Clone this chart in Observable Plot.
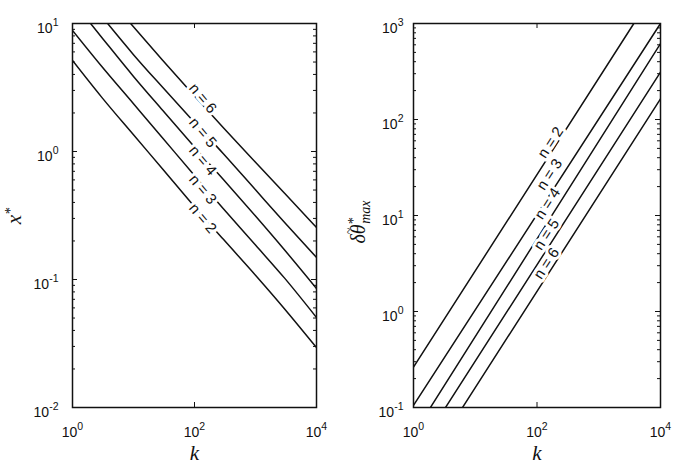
<!DOCTYPE html>
<html><head><meta charset="utf-8">
<script src="https://cdn.jsdelivr.net/npm/d3@7"></script>
<script src="https://cdn.jsdelivr.net/npm/@observablehq/plot@0.6"></script>
<style>
body{margin:0;background:#fff;}
#wrap{position:relative;width:679px;height:471px;overflow:hidden;}
#wrap svg{position:absolute;top:0;}
</style></head><body><div id="wrap"></div>
<script>
// ---------- data ----------
const kGrid = [1, 3, 10, 30, 100, 300, 1000, 3000, 10000];
const xStarN2 = [5.14, 2.66, 1.35, 0.731, 0.371, 0.205, 0.108, 0.0589, 0.0294];
const xStarN3 = [8.82, 4.63, 2.36, 1.276, 0.649, 0.356, 0.186, 0.1025, 0.0505];
const xStarN4 = [null, 7.82, 3.86, 2.10, 1.086, 0.601, 0.313, 0.170, 0.0851];
const xStarN5 = [null, null, 5.71, 3.17, 1.687, 0.956, 0.502, 0.279, 0.1486];
const xStarN6 = [null, null, null, 5.17, 2.71, 1.527, 0.825, 0.471, 0.255];
// k where curves n = 4, 5, 6 leave the top of the frame (x* = 10)
const xStarTopK = [null, null, 1.98, 3.76, 8.97];
const xStarTopV = 10;

const nValues = [2, 3, 4, 5, 6];
const dthStartK = [1, 1, 1.88, 3.30, 6.22];
const dthStartV = [0.263, 0.105, 0.1, 0.1, 0.1];
const dthEndK = [3700, 10000, 10000, 10000, 10000];
const dthEndV = [1000, 1000, 617, 311, 164];

const leftLabelK = [136.6, 136.6, 136.6, 136.6, 136.6];
const leftLabelV = [0.300, 0.505, 0.850, 1.407, 2.60];
const rightLabelK = [165.5, 159, 148, 142.5, 142.5];
const rightLabelV = [57.5, 26.7, 13.3, 6.34, 3.16];

const xTicks = [1, 100, 10000];
const leftYTicks = [0.01, 0.1, 1, 10];
const rightYTicks = [0.1, 1, 10, 100, 1000];

// ---------- build tables ----------
const xStarSeries = [xStarN2, xStarN3, xStarN4, xStarN5, xStarN6];
const leftRows = [];
nValues.forEach((n, i) => {
  if (xStarTopK[i] != null) leftRows.push({n, k: xStarTopK[i], v: xStarTopV});
  kGrid.forEach((k, j) => { const v = xStarSeries[i][j]; if (v != null) leftRows.push({n, k, v}); });
});
const rightRows = [];
nValues.forEach((n, i) => {
  rightRows.push({n, k: dthStartK[i], v: dthStartV[i]});
  rightRows.push({n, k: dthEndK[i], v: dthEndV[i]});
});
const leftLabels = nValues.map((n, i) => ({n, k: leftLabelK[i], v: leftLabelV[i]}));
const rightLabels = nValues.map((n, i) => ({n, k: rightLabelK[i], v: rightLabelV[i]}));

function minorTicks(lo, hi) {
  const out = [];
  for (let e = Math.round(Math.log10(lo)); e < Math.round(Math.log10(hi)); e++)
    for (let m = 2; m <= 9; m++) out.push(m * Math.pow(10, e));
  return out;
}
const expFmt = d => "10^" + Math.round(Math.log10(d));

const H = 471, mTop = 23, mBottom = 64;
const frameH = H - mTop - mBottom;

function panel({width, mLeft, mRight, yDomain, yTicks, rows, labels, rot, yPad}) {
  const W = width - mLeft - mRight;
  const minor = minorTicks(yDomain[0], yDomain[1]);
  const ink = "#111";
  return Plot.plot({
    width, height: H, marginLeft: mLeft, marginRight: mRight, marginTop: mTop, marginBottom: mBottom,
    style: {fontFamily: "'Liberation Sans', Arial, sans-serif", background: "white", color: ink},
    x: {type: "log", domain: [1, 10000]},
    y: {type: "log", domain: yDomain},
    marks: [
      Plot.axisX({ticks: xTicks, tickSize: 0, tickPadding: 20, tickFormat: expFmt, fontSize: 14, label: null}),
      Plot.axisY({ticks: yTicks, tickSize: 0, tickPadding: yPad, tickFormat: expFmt, fontSize: 14, label: null, dy: 5}),
      // inward ticks (left / right)
      Plot.tickY(yTicks, {y: d => d, insetRight: W - 5, stroke: ink}),
      Plot.tickY(yTicks, {y: d => d, insetLeft: W - 5, stroke: ink}),
      Plot.tickY(minor, {y: d => d, insetRight: W - 3, stroke: ink}),
      Plot.tickY(minor, {y: d => d, insetLeft: W - 3, stroke: ink}),
      // inward ticks (top / bottom)
      Plot.tickX(xTicks, {x: d => d, insetTop: frameH - 5, stroke: ink}),
      Plot.tickX(xTicks, {x: d => d, insetBottom: frameH - 5, stroke: ink}),
      Plot.line(rows, {x: "k", y: "v", z: "n", curve: "monotone-x", stroke: ink, strokeWidth: 1.5, clip: true}),
      Plot.text(labels, {x: "k", y: "v", text: d => `n = ${d.n}`, rotate: rot, fontSize: 15, fill: ink,
        stroke: "white", strokeWidth: 6, paintOrder: "stroke"}),
      Plot.frame({stroke: ink, strokeWidth: 1.5}),
      Plot.text(["k"], {text: d => d, frameAnchor: "bottom", dy: 52, fontSize: 21, fontStyle: "italic",
        fontFamily: "'Liberation Serif', 'Times New Roman', serif", fill: ink})
    ]
  });
}

const left = panel({width: 340, mLeft: 72, mRight: 24, yDomain: [0.01, 10], yTicks: leftYTicks,
  rows: leftRows, labels: leftLabels, rot: 50, yPad: 14});
const right = panel({width: 339, mLeft: 73, mRight: 19, yDomain: [0.1, 1000], yTicks: rightYTicks,
  rows: rightRows, labels: rightLabels, rot: -57, yPad: 10});

const wrap = document.getElementById("wrap");
left.style.left = "0px";
right.style.left = "340px";
wrap.appendChild(left);
wrap.appendChild(right);

// superscript exponents in tick labels
for (const svg of [left, right]) {
  svg.querySelectorAll("text").forEach(t => {
    const m = /^10\^(-?\d+)$/.exec(t.textContent);
    if (!m) return;
    t.textContent = "";
    const a = document.createElementNS("http://www.w3.org/2000/svg", "tspan");
    a.textContent = "10";
    const b = document.createElementNS("http://www.w3.org/2000/svg", "tspan");
    b.textContent = m[1];
    b.setAttribute("dy", "-7");
    b.setAttribute("font-size", "10.5");
    t.appendChild(a); t.appendChild(b);
  });
}

// y-axis titles
const serif = "'Liberation Serif', 'Times New Roman', serif";
{
  const t = d3.select(left).append("text")
    .attr("transform", "translate(21,216) rotate(-90)")
    .attr("text-anchor", "middle").attr("font-family", serif).attr("font-style", "italic")
    .attr("font-size", 21).attr("fill", "#111");
  t.append("tspan").text("x");
  t.append("tspan").attr("dy", -6).attr("font-size", 14).text("*");
}
{
  const t = d3.select(right).append("text")
    .attr("transform", "translate(25,222) rotate(-90)")
    .attr("text-anchor", "middle").attr("font-family", serif).attr("font-style", "italic")
    .attr("font-size", 20).attr("fill", "#111");
  t.append("tspan").text("δθ");
  t.append("tspan").attr("dx", -10).attr("dy", -12).attr("font-size", 12).text("~");
  t.append("tspan").attr("dx", 3).attr("dy", 5).attr("font-size", 14).text("*");
  t.append("tspan").attr("dy", 12).attr("dx", -6).attr("font-size", 14).text("max");
}
</script></body></html>
